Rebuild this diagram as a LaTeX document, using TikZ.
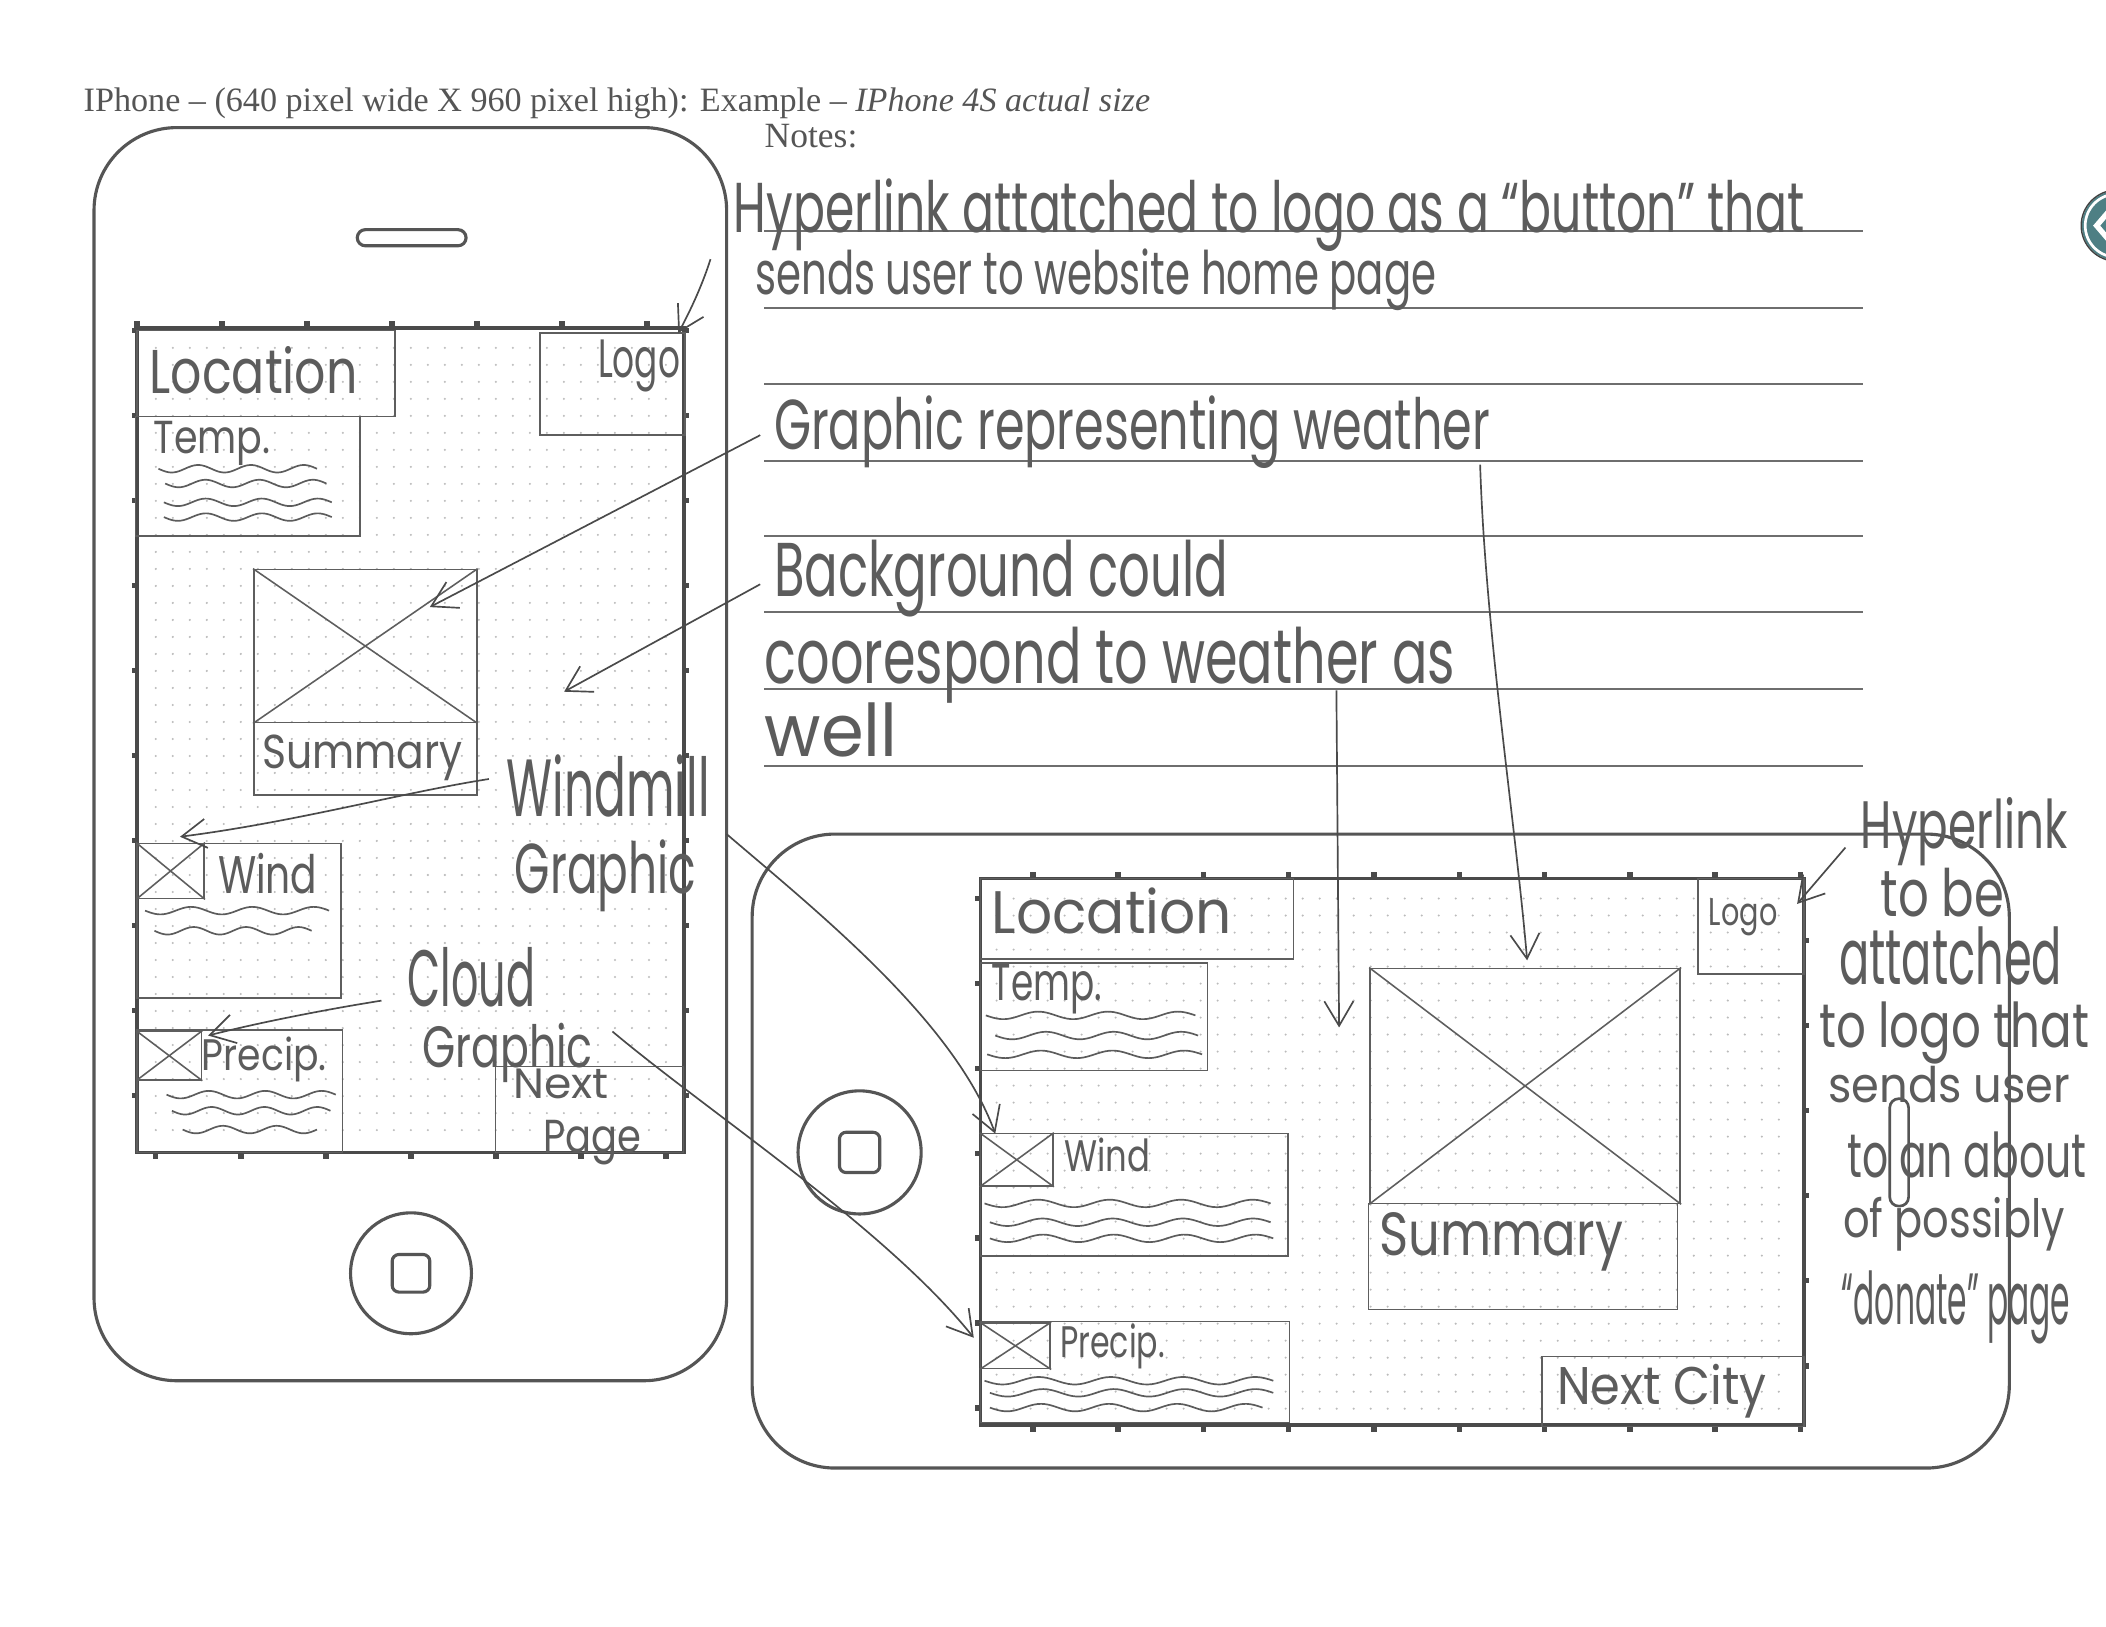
\documentclass[tikz,border=0pt]{standalone}
\usepackage{fontspec}
\setmainfont{Liberation Serif}
\newfontfamily\hand{Poppins}
\usepackage{graphicx}
\usetikzlibrary{arrows.meta,fit}
\newdimen\upx \upx=0.6pt
\newcommand\hw[3]{\resizebox{#1\upx}{#2\upx}{\hand #3}}
\definecolor{phonec}{HTML}{555555}
\definecolor{borderc}{HTML}{4A4A4A}
\definecolor{boxc}{HTML}{5E5E5E}
\definecolor{dotc}{HTML}{BBBBBB}
\definecolor{handc}{HTML}{5C5C5C}
\definecolor{linec}{HTML}{6E6E6E}
\definecolor{arrc}{HTML}{4A4A4A}
\definecolor{titlec}{HTML}{555555}
\definecolor{tealc}{HTML}{4E7F84}
\newcommand\wave[4]{\draw[wavec] plot[domain=#1:#2,samples=70,smooth] (\x,{#3+2.8*sin(360*#4/(#2-#1)*(\x-#1))});}
\begin{document}
\begin{tikzpicture}[x=0.6pt,y=-0.6pt,
  phone/.style={draw=phonec,line width=1.4pt},
  screen/.style={draw=borderc,line width=1.7pt,inner sep=0pt,rectangle},
  box/.style={draw=boxc,line width=0.75pt,inner sep=0pt,rectangle},
  hwt/.style={anchor=base west,inner sep=0pt,text=handc},
  wavec/.style={draw=handc,line width=0.75pt},
  noteline/.style={draw=linec,line width=0.9pt},
  harrow/.style={draw=arrc,line width=0.75pt,-{Straight Barb[length=11pt,width=13pt]}},
  tick/.style={fill=borderc}]
\useasboundingbox (0,0) rectangle (1568,1211);
\clip (0,0) rectangle (1568,1211);
\fill[white] (0,0) rectangle (1568,1211);

% title
\node[anchor=base west,inner sep=0pt,text=titlec] (title) at (62,83)
  {\resizebox{794\upx}{!}{IPhone -- (640 pixel wide X 960 pixel high): Example -- \textit{IPhone 4S actual size}}};
\node[anchor=base west,inner sep=0pt,text=titlec] (notes) at (569,110) {\resizebox{69\upx}{!}{Notes:}};

% teal circle at right edge
\fill[tealc] (1576,168) circle[radius=26];
\draw[white,line width=1.2pt] (1576,168) circle[radius=23.5];
\draw[black!75,line width=0.6pt] (1576,168) circle[radius=26.5];
\draw[white,line width=2.4pt] (1573,154) -- (1561,168) -- (1573,182);

% phones
\node[phone,rounded corners=37pt,inner sep=0pt,fit={(70,95) (541,1028)}] (pphone) {};
\node[phone,rounded corners=37pt,inner sep=0pt,fit={(560,621) (1496,1093)}] (lphone) {};
\draw[phone,rounded corners=3.6pt] (266,171) rectangle (347,183);
\node[phone,circle,minimum size=54pt,inner sep=0pt] (phome) at (306,948) {};
\draw[phone,rounded corners=3pt] (292,934) rectangle (320,962);
\node[phone,circle,minimum size=55pt,inner sep=0pt] (lhome) at (640,858) {};
\draw[phone,rounded corners=3pt] (625,843) rectangle (655,873);
\draw[phone,line width=1.2pt,rounded corners=4pt] (1407,818) rectangle (1421,898);

% dot grids
\fill[dotc] \foreach \i in {0,...,30} {\foreach \j in {0,...,46} {({116+12.66*\i},{259+12.66*\j}) circle[radius=0.85]}};
\fill[dotc] \foreach \i in {0,...,46} {\foreach \j in {0,...,30} {({742+12.66*\i},{669+12.66*\j}) circle[radius=0.85]}};

% screens
\node[screen,fit={(102,244) (509,858)}] (pscreen) {};
\node[screen,fit={(730,654) (1343,1061)}] (lscreen) {};
\foreach \k in {0,...,6} {\fill[tick] ({102+63.3*\k-2},239) rectangle ({102+63.3*\k+2},245);}
\foreach \k in {0,...,6} {\fill[tick] ({116+63.3*\k-2},857) rectangle ({116+63.3*\k+2},863);}
\foreach \k in {0,...,9} {\fill[tick] (98,{246+63.3*\k-2}) rectangle (103,{246+63.3*\k+2});
                          \fill[tick] (508,{246+63.3*\k-2}) rectangle (513,{246+63.3*\k+2});}
\foreach \k in {0,...,9} {\fill[tick] ({769+63.5*\k-2},649) rectangle ({769+63.5*\k+2},655);
                          \fill[tick] ({769+63.5*\k-2},1060) rectangle ({769+63.5*\k+2},1066);}
\foreach \k in {0,...,6} {\fill[tick] (726,{669+63.2*\k-2}) rectangle (731,{669+63.2*\k+2});}
\foreach \k in {0,...,5} {\fill[tick] (1342,{700+63.4*\k-2}) rectangle (1347,{700+63.4*\k+2});}

% portrait boxes
\node[box,fit={(102,246) (294,310)}] (ploc) {};
\node[box,fit={(402,248) (510,324)}] (plogo) {};
\node[box,fit={(101,310) (268,399)}] (ptemp) {};
\node[box,fit={(189,424) (355,538)}] (pimg) {};
\node[box,fit={(189,538) (355,592)}] (psum) {};
\node[box,fit={(102,628) (254,743)}] (pwind) {};
\node[box,fit={(102,628) (152,669)}] (pwindi) {};
\node[box,fit={(102,767) (255,858)}] (pprecip) {};
\node[box,fit={(102,768) (150,804)}] (pprecipi) {};
\node[box,fit={(369,794) (509,858)}] (pnextb) {};
\foreach \b in {pimg,pwindi,pprecipi} {\draw[boxc,line width=0.7pt] (\b.north west) -- (\b.south east) (\b.north east) -- (\b.south west);}

% landscape boxes
\node[box,fit={(730,654) (963,714)}] (lloc) {};
\node[box,fit={(730,717) (899,797)}] (ltemp) {};
\node[box,fit={(1264,654) (1343,725)}] (llogo) {};
\node[box,fit={(1020,721) (1251,896)}] (limg) {};
\node[box,fit={(1019,896) (1249,975)}] (lsum) {};
\node[box,fit={(730,844) (959,935)}] (lwind) {};
\node[box,fit={(730,844) (784,883)}] (lwindi) {};
\node[box,fit={(730,984) (960,1059)}] (lprecip) {};
\node[box,fit={(730,985) (782,1019)}] (lprecipi) {};
\node[box,fit={(1148,1010) (1343,1062)}] (lnextb) {};
\foreach \b in {limg,lwindi,lprecipi} {\draw[boxc,line width=0.7pt] (\b.north west) -- (\b.south east) (\b.north east) -- (\b.south west);}

% waves
\wave{118}{236}{349}{3}\wave{123}{243}{360}{3}\wave{122}{247}{374}{3}\wave{122}{247}{385}{3}
\wave{108}{245}{678}{3}\wave{115}{232}{693}{3}
\wave{124}{250}{815}{3}\wave{128}{246}{827}{3}\wave{136}{236}{841}{2.5}
\wave{734}{890}{756}{3}\wave{741}{892}{771}{3}\wave{735}{895}{785}{3}
\wave{733}{946}{896}{4}\wave{737}{946}{910}{4}\wave{737}{948}{922}{4}
\wave{733}{948}{1028}{4}\wave{737}{948}{1037}{4}\wave{737}{940}{1048}{4}

% note lines
\foreach \y in {172,229,286,343,399,456,513,570} {\draw[noteline] (569,\y) -- (1387,\y);}

% notes text
\node[hwt] (n1) at (546,173) {\hw{797}{40}{Hyperlink attatched to logo as a “button” that}};
\node[hwt] (n2) at (562,219) {\hw{507}{34}{sends user to website home page}};
\node[hwt] (n3) at (576,335) {\hw{533}{40}{Graphic representing weather}};
\node[hwt] (n4) at (576,444) {\hw{338}{42}{Background could}};
\node[hwt] (n5) at (569,509) {\hw{514}{42}{coorespond to weather as}};
\node[hwt] (n6) at (569,563) {\hw{99}{40}{well}};

% portrait labels
\node[hwt] (ploct) at (111,293) {\hw{155}{35}{Location}};
\node[hwt] (plogot) at (445,281) {\hw{61}{28}{Logo}};
\node[hwt] (ptempt) at (114,338) {\hw{87}{24}{Temp.}};
\node[hwt] (psumt) at (195,572) {\hw{149}{25}{Summary}};
\node[hwt] (pwindmill) at (377,608) {\hw{151}{46}{Windmill}};
\node[hwt] (pgraph1) at (383,665) {\hw{135}{40}{Graphic}};
\node[hwt] (pwindt) at (162,665) {\hw{74}{30}{Wind}};
\node[hwt] (pcloud) at (303,749) {\hw{95}{44}{Cloud}};
\node[hwt] (pgraph2) at (314,795) {\hw{127}{33}{Graphic}};
\node[hwt] (pprecipt) at (150,797) {\hw{93}{25}{Precip.}};
\node[hwt] (pnext) at (382,818) {\hw{71}{22}{Next}};
\node[hwt] (ppage) at (404,858) {\hw{73}{24}{Page}};

% landscape labels
\node[hwt] (lloct) at (738,695) {\hw{179}{34}{Location}};
\node[hwt] (llogot) at (1272,689) {\hw{51}{20}{Logo}};
\node[hwt] (ltempt) at (738,745) {\hw{82}{27}{Temp.}};
\node[hwt] (lwindt) at (792,872) {\hw{64}{25}{Wind}};
\node[hwt] (lprecipt) at (789,1011) {\hw{78}{25}{Precip.}};
\node[hwt] (lsumt) at (1027,935) {\hw{181}{32}{Summary}};
\node[hwt] (lnextt) at (1159,1046) {\hw{156}{30}{Next City}};

% right notes
\node[hwt] (r1) at (1385,632) {\hw{154}{38}{Hyperlink}};
\node[hwt] (r2) at (1400,682) {\hw{92}{36}{to be}};
\node[hwt] (r3) at (1369,733) {\hw{166}{43}{attatched}};
\node[hwt] (r4) at (1354,780) {\hw{201}{34}{to logo that}};
\node[hwt] (r5) at (1361,821) {\hw{180}{27}{sends user}};
\node[hwt] (r6) at (1375,877) {\hw{178}{34}{to an about}};
\node[hwt] (r7) at (1372,921) {\hw{165}{30}{of possibly}};
\node[hwt] (r8) at (1371,986) {\hw{170}{40}{“donate” page}};

% arrows
\coordinate (a1s) at (529,193); \coordinate (a1e) at (505,248);
\coordinate (a2s) at (566,324); \coordinate (a2e) at (320,452);
\coordinate (a3s) at (566,435); \coordinate (a3e) at (420,515);
\coordinate (a4s) at (364,580); \coordinate (a4e) at (134,623);
\coordinate (a5s) at (284,745); \coordinate (a5e) at (155,771);
\coordinate (a6s) at (541,621); \coordinate (a6e) at (741,844);
\coordinate (a7s) at (456,768); \coordinate (a7e) at (725,996);
\coordinate (a8s) at (995,514); \coordinate (a8e) at (997,765);
\coordinate (a9s) at (1102,346); \coordinate (a9e) at (1137,715);
\coordinate (a10s) at (1374,631); \coordinate (a10e) at (1338,673);
\draw[harrow] (a1s) .. controls (522,215) and (512,235) .. (a1e);
\draw[harrow] (a2s) -- (a2e);
\draw[harrow] (a3s) -- (a3e);
\draw[harrow] (a4s) .. controls (300,590) and (220,612) .. (a4e);
\draw[harrow] (a5s) .. controls (240,752) and (190,762) .. (a5e);
\draw[harrow] (a6s) .. controls (610,680) and (710,760) .. (a6e);
\draw[harrow] (a7s) .. controls (530,830) and (660,915) .. (a7e);
\draw[harrow] (a8s) -- (a8e);
\draw[harrow] (a9s) .. controls (1106,470) and (1128,610) .. (a9e);
\draw[harrow] (a10s) -- (a10e);
\end{tikzpicture}
\end{document}
